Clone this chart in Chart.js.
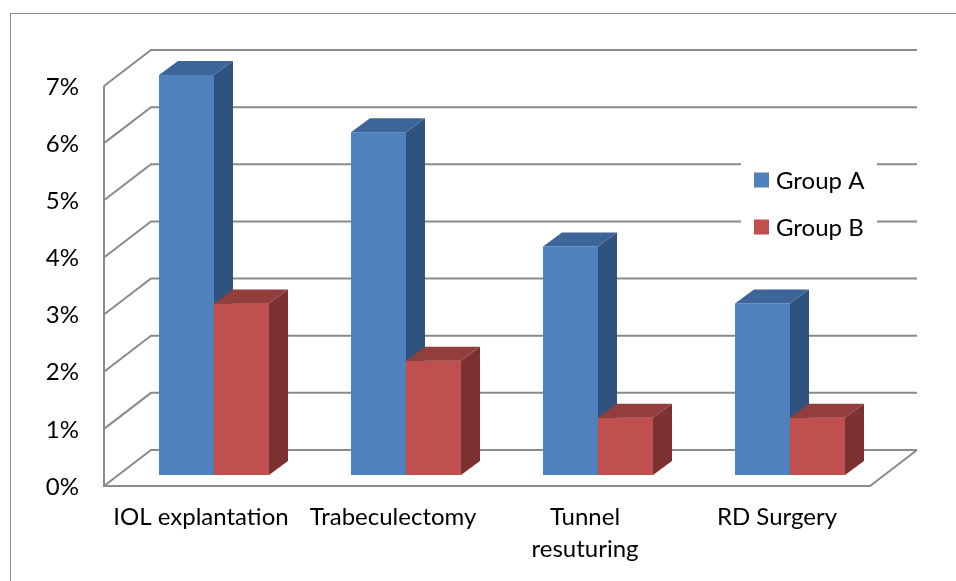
<!DOCTYPE html>
<html>
<head>
<meta charset="utf-8">
<script src="https://cdn.jsdelivr.net/npm/chart.js@4/dist/chart.umd.min.js"></script>
<style>
  html, body { margin: 0; padding: 0; background: #fff; }
  #wrap { position: relative; width: 956px; height: 581px; }
</style>
</head>
<body>
<div id="wrap"><canvas id="c"></canvas></div>
<script>
// Complication rates per procedure
const categories = ['IOL explantation', 'Trabeculectomy', ['Tunnel', 'resuturing'], 'RD Surgery'];
const groupA = [7, 6, 4, 3];
const groupB = [3, 2, 1, 1];
const seriesNames = ['Group A', 'Group B'];
const yMin = 0;
const yMax = 7;
const yStep = 1;

const FONT = 'Lato, "Open Sans", sans-serif';
const FONT_SIZE = 24;

// Face colours for the pseudo-3D columns
const shades = [
  { front: '#4F81BD', top: '#3C659A', side: '#30527F' },
  { front: '#C0504D', top: '#913E3C', side: '#7B3130' }
];

// Depth geometry of the floor/back walls and of each column
const WALL_DX = 47, WALL_DY = 36;   // full depth of the floor
const INSET_Y = 11;                 // columns sit a little behind the front edge
const BAR_DX = 19, BAR_DY = 14;     // column depth

const wallPlugin = {
  id: 'wall3d',
  beforeDraw(chart) {
    const ctx = chart.ctx;
    ctx.save();
    ctx.strokeStyle = '#8c8c8c';
    ctx.lineWidth = 1;
    ctx.strokeRect(10.5, 13.5, 1000, 1000);
    ctx.restore();
  },
  beforeDatasetsDraw(chart) {
    const { ctx, chartArea, scales } = chart;
    const y = scales.y;
    const x0 = chartArea.left - 14;
    const xBackRight = chartArea.right + 31;
    const xFrontRight = xBackRight - WALL_DX;
    ctx.save();
    ctx.strokeStyle = '#8a8a8a';
    ctx.lineWidth = 2;
    ctx.lineJoin = 'miter';
    // back wall grid lines
    for (let v = yMin; v <= yMax; v += yStep) {
      const fy = y.getPixelForValue(v) + INSET_Y;
      const by = fy - WALL_DY;
      ctx.beginPath();
      ctx.moveTo(x0, fy);
      ctx.lineTo(x0 + WALL_DX, by);
      ctx.lineTo(xBackRight, by);
      ctx.stroke();
    }
    // side wall front edge and floor outline
    const fTop = y.getPixelForValue(yMax) + INSET_Y;
    const fBot = y.getPixelForValue(yMin) + INSET_Y;
    ctx.beginPath();
    ctx.moveTo(x0, fTop);
    ctx.lineTo(x0, fBot);
    ctx.lineTo(xFrontRight, fBot);
    ctx.lineTo(xBackRight, fBot - WALL_DY);
    ctx.stroke();
    ctx.restore();
  },
  afterDatasetsDraw(chart) {
    const ctx = chart.ctx;
    const faces = (el, c) => {
      const r = el.x + el.width / 2;
      const l = el.x - el.width / 2;
      ctx.fillStyle = c.side;
      ctx.beginPath();
      ctx.moveTo(r, el.y);
      ctx.lineTo(r + BAR_DX, el.y - BAR_DY);
      ctx.lineTo(r + BAR_DX, el.base - BAR_DY);
      ctx.lineTo(r, el.base);
      ctx.closePath();
      ctx.fill();
      ctx.fillStyle = c.top;
      ctx.beginPath();
      ctx.moveTo(l, el.y);
      ctx.lineTo(l + BAR_DX, el.y - BAR_DY);
      ctx.lineTo(r + BAR_DX, el.y - BAR_DY);
      ctx.lineTo(r, el.y);
      ctx.closePath();
      ctx.fill();
    };
    ctx.save();
    chart.data.datasets.forEach((ds, di) => {
      const meta = chart.getDatasetMeta(di);
      meta.data.forEach(el => {
        if (di > 0) el.draw(ctx);   // keep later columns in front of earlier side faces
        faces(el, shades[di]);
      });
    });
    ctx.restore();
  },
  afterDraw(chart) {
    // legend box inside the plot
    const ctx = chart.ctx;
    ctx.save();
    ctx.fillStyle = '#fff';
    ctx.fillRect(741, 150, 136, 98);
    ctx.font = FONT_SIZE + 'px ' + FONT;
    ctx.textBaseline = 'middle';
    chart.data.datasets.forEach((ds, i) => {
      const cy = 180 + i * 47;
      ctx.fillStyle = ds.backgroundColor;
      ctx.fillRect(754, cy - 7.5, 15, 15);
      ctx.fillStyle = '#000';
      ctx.fillText(ds.label, 776, cy + 1);
    });
    ctx.restore();
  }
};

function draw() {
  new Chart(document.getElementById('c'), {
    type: 'bar',
    data: {
      labels: categories,
      datasets: [
        { label: seriesNames[0], data: groupA, backgroundColor: shades[0].front },
        { label: seriesNames[1], data: groupB, backgroundColor: shades[1].front }
      ]
    },
    options: {
      responsive: true,
      maintainAspectRatio: false,
      animation: false,
      events: [],
      layout: { padding: { left: 0, right: 70, top: 75, bottom: 0 } },
      datasets: { bar: { barPercentage: 1, categoryPercentage: 0.573 } },
      plugins: { legend: { display: false }, tooltip: { enabled: false } },
      scales: {
        x: {
          grid: { display: false, drawTicks: false },
          border: { display: false },
          ticks: {
            color: '#000',
            font: { family: FONT, size: FONT_SIZE, lineHeight: 1.34 },
            padding: 26,
            labelOffset: -13,
            maxRotation: 0,
            autoSkip: false
          },
          afterFit(s) { s.height = 106; }
        },
        y: {
          min: yMin,
          max: yMax,
          grid: { display: false, drawTicks: false },
          border: { display: false },
          ticks: {
            stepSize: yStep,
            color: '#000',
            font: { family: FONT, size: FONT_SIZE },
            padding: 39,
            labelOffset: 12,
            callback: v => v + '%'
          },
          afterFit(s) { s.width = 118; }
        }
      }
    },
    plugins: [wallPlugin]
  });
}

if (document.fonts && document.fonts.load) {
  document.fonts.load(FONT_SIZE + 'px Lato').then(draw, draw);
} else {
  draw();
}
</script>
</body>
</html>
